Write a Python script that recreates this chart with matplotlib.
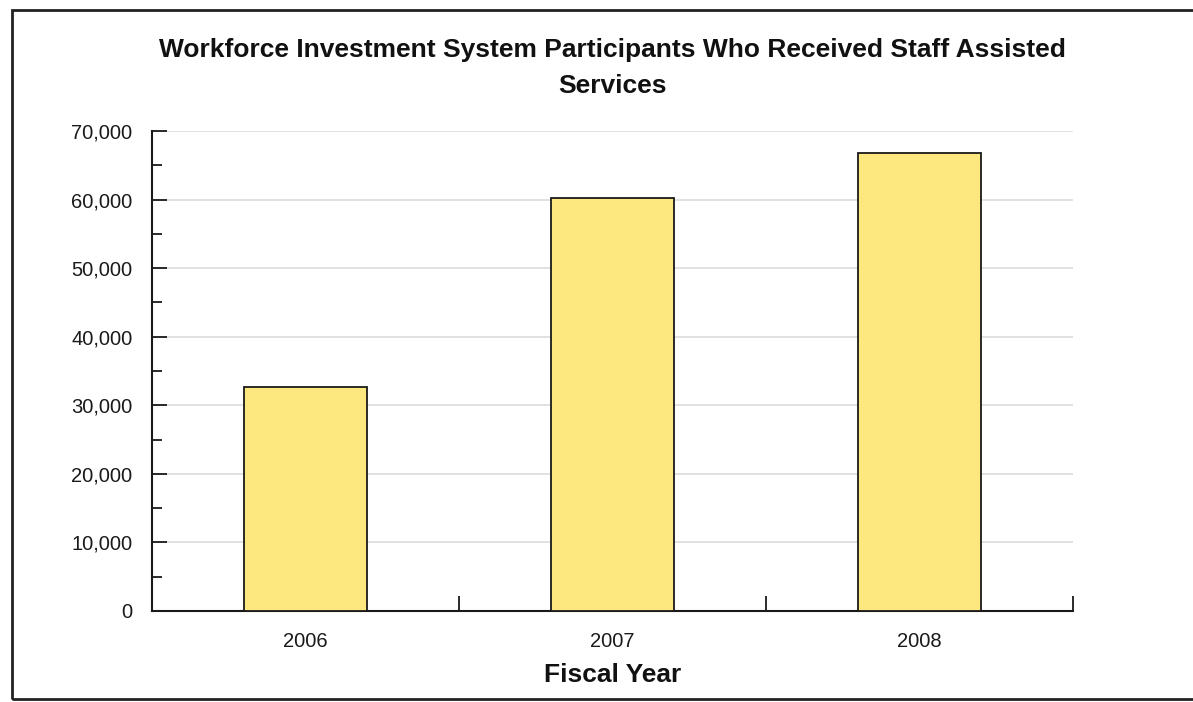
import matplotlib.pyplot as plt
from matplotlib.patches import Rectangle
from matplotlib.ticker import FuncFormatter, MultipleLocator

plt.rcParams['font.family'] = ['Liberation Sans', 'DejaVu Sans']

years = ['2006', '2007', '2008']
participants = [32600, 60300, 66800]

title = 'Workforce Investment System Participants Who Received Staff Assisted\nServices'

fig = plt.figure(figsize=(11.93, 7.02), dpi=100)

# frame around the whole chart (right side runs off the edge)
fig.patches.append(Rectangle((12 / 1193, 3 / 702), 1.2, 689 / 702,
                             transform=fig.transFigure, fill=False,
                             edgecolor='#222222', linewidth=2.0))

ax = fig.add_axes([152 / 1193, 91 / 702, 921 / 1193, 480 / 702])

x = range(len(years))
ax.bar(x, participants, width=0.4, color='#fde880', edgecolor='#1a1a1a',
       linewidth=1.3, zorder=3)

ax.set_xlim(-0.5, len(years) - 0.5)
ax.set_ylim(0, 70000)

ax.yaxis.set_major_locator(MultipleLocator(10000))
ax.yaxis.set_minor_locator(MultipleLocator(5000))
ax.yaxis.set_major_formatter(FuncFormatter(lambda v, _: f'{int(v):,}'))
ax.tick_params(axis='y', which='major', direction='in', length=11, width=1.3,
               pad=14, labelsize=14.5, colors='#1a1a1a')
ax.tick_params(axis='y', which='minor', direction='in', length=7, width=1.3,
               colors='#1a1a1a')

# category ticks sit on the boundaries, labels in the middle
ax.set_xticks([i - 0.5 for i in range(len(years) + 1)])
ax.set_xticklabels([])
ax.set_xticks(list(x), minor=True)
ax.set_xticklabels(years, minor=True)
ax.tick_params(axis='x', which='major', direction='in', length=11, width=1.3,
               colors='#1a1a1a')
ax.tick_params(axis='x', which='minor', length=0, pad=15, labelsize=14.5,
               colors='#1a1a1a')

ax.grid(axis='y', which='major', color='#dcdcdc', linewidth=1.2, zorder=0)
ax.set_axisbelow(True)

for side in ('top', 'right'):
    ax.spines[side].set_visible(False)
for side in ('left', 'bottom'):
    ax.spines[side].set_linewidth(1.5)
    ax.spines[side].set_color('#1a1a1a')

ax.set_xlabel('Fiscal Year', fontsize=19, fontweight='bold', labelpad=9,
              color='#111111')

fig.text(612 / 1193, 1 - 68 / 702, title, ha='center', va='center',
         fontsize=19, fontweight='bold', color='#111111', linespacing=1.68)

fig.savefig('out.png', dpi=100, facecolor='white')
